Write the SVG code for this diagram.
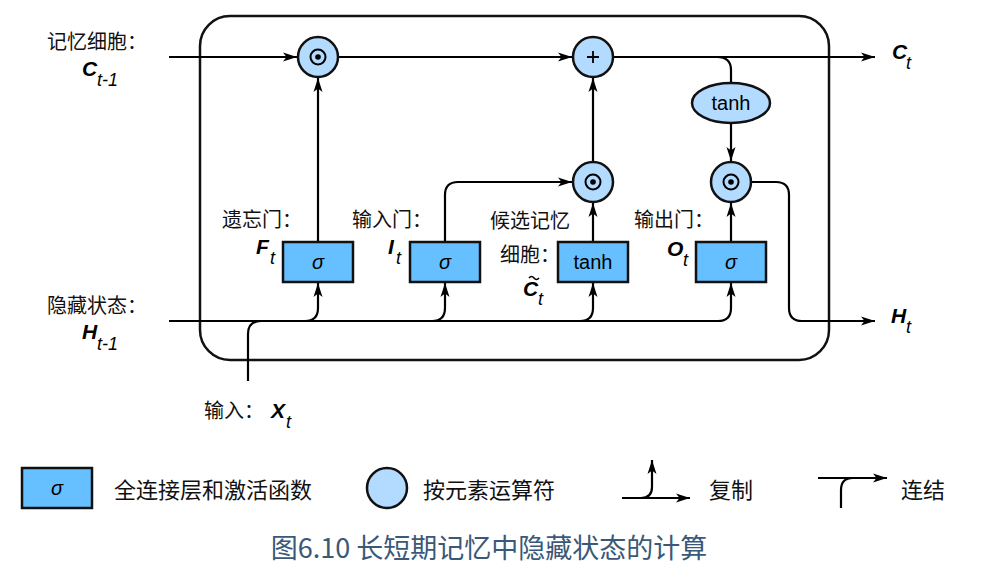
<svg xmlns="http://www.w3.org/2000/svg" width="1006" height="586" viewBox="0 0 1006 586">
<style>
.cjk{font-family:"Noto Sans CJK SC","Noto Sans",sans-serif;fill:#111}
.var{font-family:"Liberation Sans",Arial,sans-serif;font-weight:bold;font-style:italic;fill:#000}
.sub{font-family:"Liberation Sans",Arial,sans-serif;font-style:italic;fill:#000}
.box{fill:#66bfff;stroke:#111;stroke-width:2.5}
.op{fill:#b3dbff;stroke:#111;stroke-width:2.5}
.ln{fill:none;stroke:#000;stroke-width:2.2}
.lbl{font-family:"Liberation Sans",Arial,sans-serif;fill:#000;text-anchor:middle}
</style>
<defs>
<marker id="ah" markerUnits="userSpaceOnUse" markerWidth="15" markerHeight="11" refX="14" refY="5.5" orient="auto">
<path d="M0,1 L14,5.5 L0,10 L3.5,5.5 z" fill="#000"/>
</marker>
<g id="dotop"><circle r="7.5" fill="none" stroke="#000" stroke-width="2"/><circle r="2.8" fill="#000"/></g>
</defs>
<rect id="cell" x="200" y="16" width="629" height="344" rx="30" fill="none" stroke="#111" stroke-width="2.5"/>
<g id="connectors">
<path class="ln" d="M169,57 H297" marker-end="url(#ah)"/>
<path class="ln" d="M338,57 H572" marker-end="url(#ah)"/>
<path class="ln" d="M613,57 H875" marker-end="url(#ah)"/>
<path class="ln" d="M717,57 Q731,57 731,70 V83"/>
<path class="ln" d="M731,123 V161" marker-end="url(#ah)"/>
<path class="ln" d="M318,242 V78" marker-end="url(#ah)"/>
<path class="ln" d="M445,242 V195 Q445,182 458,182 H572" marker-end="url(#ah)"/>
<path class="ln" d="M593,242 V203" marker-end="url(#ah)"/>
<path class="ln" d="M593,162 V78" marker-end="url(#ah)"/>
<path class="ln" d="M731,242 V203" marker-end="url(#ah)"/>
<path class="ln" d="M751,182 H776 Q789,182 789,195 V308 Q789,321 802,321 H875" marker-end="url(#ah)"/>
<path class="ln" d="M169,321 H718 Q731,321 731,308 V283" marker-end="url(#ah)"/>
<path class="ln" d="M305,321 Q318,321 318,308 V283" marker-end="url(#ah)"/>
<path class="ln" d="M432,321 Q445,321 445,308 V283" marker-end="url(#ah)"/>
<path class="ln" d="M580,321 Q593,321 593,308 V283" marker-end="url(#ah)"/>
<path class="ln" d="M248,381 V334 Q248,321 261,321"/>
</g>
<g id="mul_f"><circle class="op" cx="318" cy="57" r="20"/><use href="#dotop" x="318" y="57"/></g>
<g id="add"><circle class="op" cx="593" cy="57" r="20"/><path d="M587,57 H599 M593,51 V63" stroke="#000" stroke-width="1.8"/></g>
<g id="tanh_c"><ellipse class="op" cx="731" cy="103" rx="39" ry="20"/><text class="lbl" x="731" y="110" font-size="20">tanh</text></g>
<g id="mul_i"><circle class="op" cx="593" cy="182" r="20"/><use href="#dotop" x="593" y="182"/></g>
<g id="mul_o"><circle class="op" cx="731" cy="182" r="20"/><use href="#dotop" x="731" y="182"/></g>
<g id="gate_f"><rect class="box" x="283" y="242" width="70" height="40"/><text class="lbl" x="318" y="269" font-size="20" font-style="italic">σ</text></g>
<g id="gate_i"><rect class="box" x="410" y="242" width="70" height="40"/><text class="lbl" x="445" y="269" font-size="20" font-style="italic">σ</text></g>
<g id="gate_c"><rect class="box" x="558" y="242" width="70" height="40"/><text class="lbl" x="593" y="269" font-size="20">tanh</text></g>
<g id="gate_o"><rect class="box" x="696" y="242" width="70" height="40"/><text class="lbl" x="731" y="269" font-size="20" font-style="italic">σ</text></g>
<g id="labels">
<text class="cjk" x="47" y="49" font-size="20">记忆细胞：</text>
<text class="var" x="82" y="76" font-size="21">C</text><text class="sub" x="97" y="86" font-size="18">t-1</text>
<text class="cjk" x="47" y="313" font-size="20">隐藏状态：</text>
<text class="var" x="82" y="339" font-size="21">H</text><text class="sub" x="97" y="350" font-size="18">t-1</text>
<text class="cjk" x="222" y="227" font-size="20">遗忘门：</text>
<text class="var" x="256" y="254" font-size="21">F</text><text class="sub" x="270" y="264" font-size="18">t</text>
<text class="cjk" x="352" y="227" font-size="20">输入门：</text>
<text class="var" x="388" y="254" font-size="21">I</text><text class="sub" x="396" y="264" font-size="18">t</text>
<text class="cjk" x="490" y="228" font-size="20">候选记忆</text>
<text class="cjk" x="500" y="262" font-size="20">细胞：</text>
<text class="var" x="523" y="296" font-size="21">C</text><text class="sub" x="538" y="305" font-size="18">t</text>
<path d="M529,278 q2.5,-3 5,0 t5,0" fill="none" stroke="#000" stroke-width="1.6"/>
<text class="cjk" x="634" y="227" font-size="20">输出门：</text>
<text class="var" x="667" y="256" font-size="21">O</text><text class="sub" x="683" y="266" font-size="18">t</text>
<text class="var" x="892" y="59" font-size="21">C</text><text class="sub" x="906" y="69" font-size="18">t</text>
<text class="var" x="891" y="323" font-size="21">H</text><text class="sub" x="906" y="333" font-size="18">t</text>
<text class="cjk" x="204" y="418" font-size="20">输入：</text>
<text class="var" x="271" y="418" font-size="21">X</text><text class="sub" x="286" y="428" font-size="18">t</text>
</g>
<g id="legend">
<rect class="box" x="22" y="468" width="70" height="40"/><text class="lbl" x="57" y="495" font-size="20" font-style="italic">σ</text>
<text class="cjk" x="114" y="498" font-size="22">全连接层和激活函数</text>
<circle class="op" cx="387" cy="488" r="20"/>
<text class="cjk" x="423" y="498" font-size="22">按元素运算符</text>
<path class="ln" d="M622,498 H690" marker-end="url(#ah)"/>
<path class="ln" d="M641,498 Q652,498 652,487 V460" marker-end="url(#ah)"/>
<text class="cjk" x="709" y="498" font-size="22">复制</text>
<path class="ln" d="M818,478 H887" marker-end="url(#ah)"/>
<path class="ln" d="M841,508 V490 Q841,478 853,478"/>
<text class="cjk" x="901" y="498" font-size="22">连结</text>
</g>
<text id="caption" x="489" y="558" font-size="27" text-anchor="middle" font-family="Noto Sans CJK SC, Noto Sans, sans-serif" fill="#3a5878">图6.10 长短期记忆中隐藏状态的计算</text>
</svg>
